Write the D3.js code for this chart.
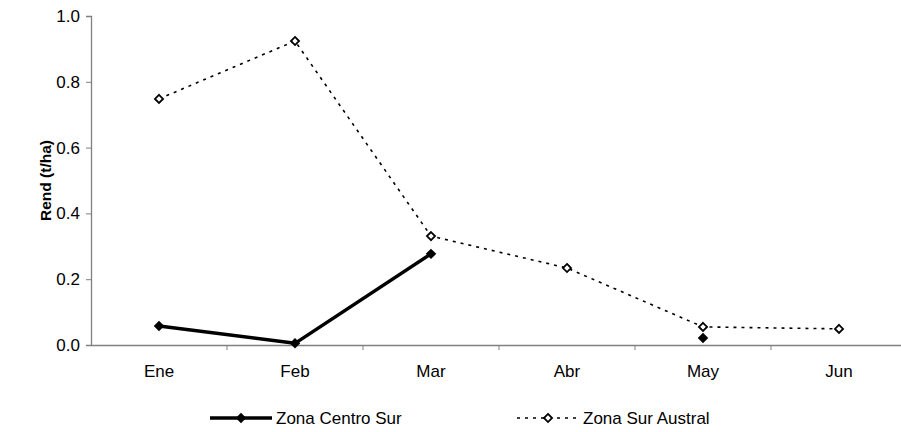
<!DOCTYPE html>
<html><head><meta charset="utf-8">
<script src="https://cdn.jsdelivr.net/npm/d3@7"></script>
<style>body{margin:0;background:#fff}svg{display:block}text{font-family:"Liberation Sans",Arial,sans-serif}</style>
</head><body><svg id="c" width="901" height="432"></svg>
<script>
const categories = ["Ene","Feb","Mar","Abr","May","Jun"];
const centroSur = [0.058, 0.005, 0.277, null, 0.021, null];
const surAustral = [0.748, 0.924, 0.331, 0.234, 0.055, 0.049];
const yTicks = [0, 0.2, 0.4, 0.6, 0.8, 1.0];
const seriesNames = ["Zona Centro Sur", "Zona Sur Austral"];

(function () {
const svg = d3.select("#c");
const mL = 91, mR = 907, mT = 16, mB = 345;
const x = d3.scaleBand().domain(categories).range([mL, mR]);
const y = d3.scaleLinear().domain([0, 1]).range([mB, mT]);
const cx = c => x(c) + x.bandwidth() / 2;
const axisCol = "#808080";
const fs = 17;

// y axis
const ya = svg.append("g").attr("transform", `translate(${mL},0)`)
  .call(d3.axisLeft(y).tickValues(yTicks).tickFormat(d3.format(".1f")).tickSize(5).tickPadding(6));
ya.select(".domain").attr("stroke", axisCol).attr("stroke-width", 1.3);
ya.selectAll(".tick line").attr("stroke", axisCol);
ya.selectAll("text").attr("font-size", fs).attr("fill", "#000").style("font-family", "Liberation Sans, Arial, sans-serif");

// x axis
const xa = svg.append("g").attr("transform", `translate(0,${mB})`)
  .call(d3.axisBottom(x).tickSize(0).tickPadding(20));
xa.select(".domain").attr("stroke", axisCol).attr("stroke-width", 1.3);
xa.selectAll("text").attr("font-size", fs).attr("fill", "#000").style("font-family", "Liberation Sans, Arial, sans-serif");
svg.append("g").selectAll("line").data(categories.slice(1)).join("line")
  .attr("x1", d => x(d)).attr("x2", d => x(d)).attr("y1", mB).attr("y2", mB + 5)
  .attr("stroke", axisCol);

// y title
svg.append("text").attr("transform", `translate(51,${(mT + mB) / 2}) rotate(-90)`)
  .attr("text-anchor", "middle").attr("font-size", 15.5).attr("font-weight", "bold").text("Rend (t/ha)");

const diamond = d3.symbol().type(d3.symbolDiamond2);
const line = d3.line().defined(d => d.v != null).x(d => cx(d.c)).y(d => y(d.v));

// Sur Austral
const d2 = categories.map((c, i) => ({c, v: surAustral[i]}));
svg.append("path").datum(d2).attr("d", line).attr("fill", "none")
  .attr("stroke", "#000").attr("stroke-width", 1.6).attr("stroke-dasharray", "3,5");
svg.append("g").selectAll("path").data(d2.filter(d => d.v != null)).join("path")
  .attr("d", diamond.size(42)()).attr("transform", d => `translate(${cx(d.c)},${y(d.v)})`)
  .attr("fill", "#fff").attr("stroke", "#000").attr("stroke-width", 1.8);

// Centro Sur
const d1 = categories.map((c, i) => ({c, v: centroSur[i]}));
svg.append("path").datum(d1).attr("d", line).attr("fill", "none")
  .attr("stroke", "#000").attr("stroke-width", 3.5).attr("stroke-linejoin", "round");
svg.append("g").selectAll("path").data(d1.filter(d => d.v != null)).join("path")
  .attr("d", diamond.size(70)()).attr("transform", d => `translate(${cx(d.c)},${y(d.v)})`)
  .attr("fill", "#000");

// legend
const ly = 418;
const lg = svg.append("g");
lg.append("line").attr("x1", 210).attr("x2", 272).attr("y1", ly).attr("y2", ly)
  .attr("stroke", "#000").attr("stroke-width", 3.5);
lg.append("path").attr("d", diamond.size(70)()).attr("transform", `translate(241,${ly})`).attr("fill", "#000");
lg.append("text").attr("x", 276).attr("y", ly).attr("dy", "0.35em").attr("font-size", fs).text(seriesNames[0]);
lg.append("line").attr("x1", 517).attr("x2", 580).attr("y1", ly).attr("y2", ly)
  .attr("stroke", "#000").attr("stroke-width", 1.6).attr("stroke-dasharray", "3,5");
lg.append("path").attr("d", diamond.size(42)()).attr("transform", `translate(548,${ly})`)
  .attr("fill", "#fff").attr("stroke", "#000").attr("stroke-width", 1.8);
lg.append("text").attr("x", 583).attr("y", ly).attr("dy", "0.35em").attr("font-size", fs).text(seriesNames[1]);
})();
</script></body></html>
